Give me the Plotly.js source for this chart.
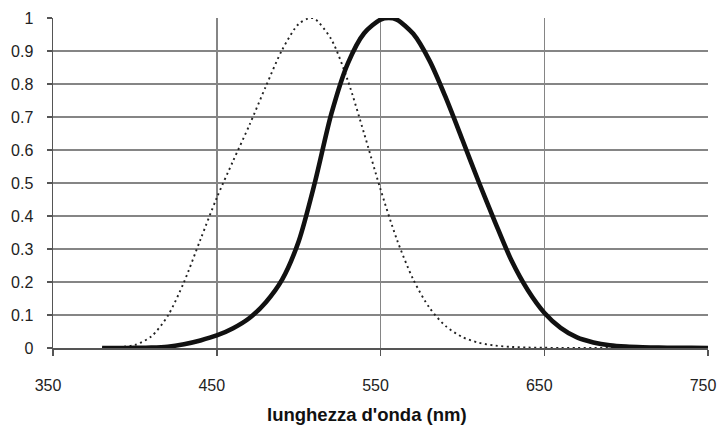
<!DOCTYPE html>
<html>
<head>
<meta charset="utf-8">
<script src="https://cdn.plot.ly/plotly-3.0.1.min.js"></script>
<style>html,body{margin:0;padding:0;background:#fff;}#chart{width:717px;height:426px;}</style>
</head>
<body>
<div id="chart"></div>
<script>
// Photopic (thick curve)
var photopicWl = [380,390,400,410,420,430,440,450,460,470,480,490,500,510,520,530,540,550,555,560,570,580,590,600,610,620,630,640,650,660,670,680,690,700,710,720,730,740,750];
var photopicVal = [0.00004,0.00012,0.0004,0.0012,0.004,0.0116,0.023,0.038,0.06,0.091,0.139,0.208,0.323,0.503,0.71,0.862,0.954,0.995,1.0,0.995,0.952,0.87,0.757,0.631,0.503,0.381,0.265,0.175,0.107,0.061,0.032,0.017,0.0082,0.0041,0.0021,0.00105,0.00052,0.00025,0.00012];
// Scotopic (dotted curve)
var scotopicWl = [380,390,400,410,420,430,440,450,460,470,480,490,500,507,510,520,530,540,550,560,570,580,590,600,610,620,630,640,650,660,670,680,690,700,710,720,730,740,750];
var scotopicVal = [0.000589,0.002209,0.00929,0.03484,0.0966,0.1998,0.3281,0.455,0.567,0.676,0.793,0.904,0.982,1.0,0.997,0.935,0.811,0.65,0.481,0.3288,0.2076,0.1212,0.0655,0.03315,0.01593,0.00737,0.003335,0.001497,0.000677,0.000313,0.000148,0.0000715,0.0000353,0.0000178,0.0000091,0.0000048,0.0000025,0.0000014,0.0000008];
var xTicks = [350,450,550,650,750];
var yTicks = [0,0.1,0.2,0.3,0.4,0.5,0.6,0.7,0.8,0.9,1];
var yTickText = ['0','0.1','0.2','0.3','0.4','0.5','0.6','0.7','0.8','0.9','1'];
var xTitle = "lunghezza d'onda (nm)";

var traces = [
  {x: scotopicWl, y: scotopicVal, mode: 'lines', type: 'scatter',
   line: {color: '#222', width: 1.9, dash: '2px,3.5px', shape: 'spline', smoothing: 0.8}, hoverinfo: 'skip'},
  {x: photopicWl, y: photopicVal, mode: 'lines', type: 'scatter',
   line: {color: '#111', width: 4.6, shape: 'spline', smoothing: 0.8}, hoverinfo: 'skip'}
];

var layout = {
  width: 717, height: 426,
  margin: {l: 53, r: 9, t: 18, b: 78},
  paper_bgcolor: '#fff', plot_bgcolor: '#fff',
  showlegend: false,
  font: {family: 'Liberation Sans, Arial, sans-serif', color: '#222'},
  xaxis: {
    range: [350, 750], tickmode: 'array', tickvals: xTicks,
    showgrid: true, gridcolor: '#858585', gridwidth: 1.5,
    zeroline: false, showline: true, linecolor: '#555', linewidth: 1.5,
    ticks: 'outside', ticklen: 6, tickcolor: '#555', tickwidth: 1.5,
    tickfont: {size: 16, color: '#222'}, ticklabelstandoff: 16, ticklabelshift: -5,
    fixedrange: true
  },
  yaxis: {
    range: [0, 1], tickmode: 'array', tickvals: yTicks, ticktext: yTickText,
    showgrid: true, gridcolor: '#858585', gridwidth: 1.5,
    zeroline: false, showline: true, linecolor: '#555', linewidth: 1.5,
    ticks: 'outside', ticklen: 5, tickcolor: '#555', tickwidth: 1.5,
    tickfont: {size: 16, color: '#222'}, ticklabelstandoff: 10,
    fixedrange: true
  },
  annotations: [{
    text: '<b>' + xTitle + '</b>', xref: 'paper', yref: 'paper',
    x: 0.479, y: -0.203, xanchor: 'center', yanchor: 'middle',
    showarrow: false, font: {size: 18.5, color: '#111'}
  }]
};

Plotly.newPlot('chart', traces, layout, {staticPlot: true, displayModeBar: false});
</script>
</body>
</html>
